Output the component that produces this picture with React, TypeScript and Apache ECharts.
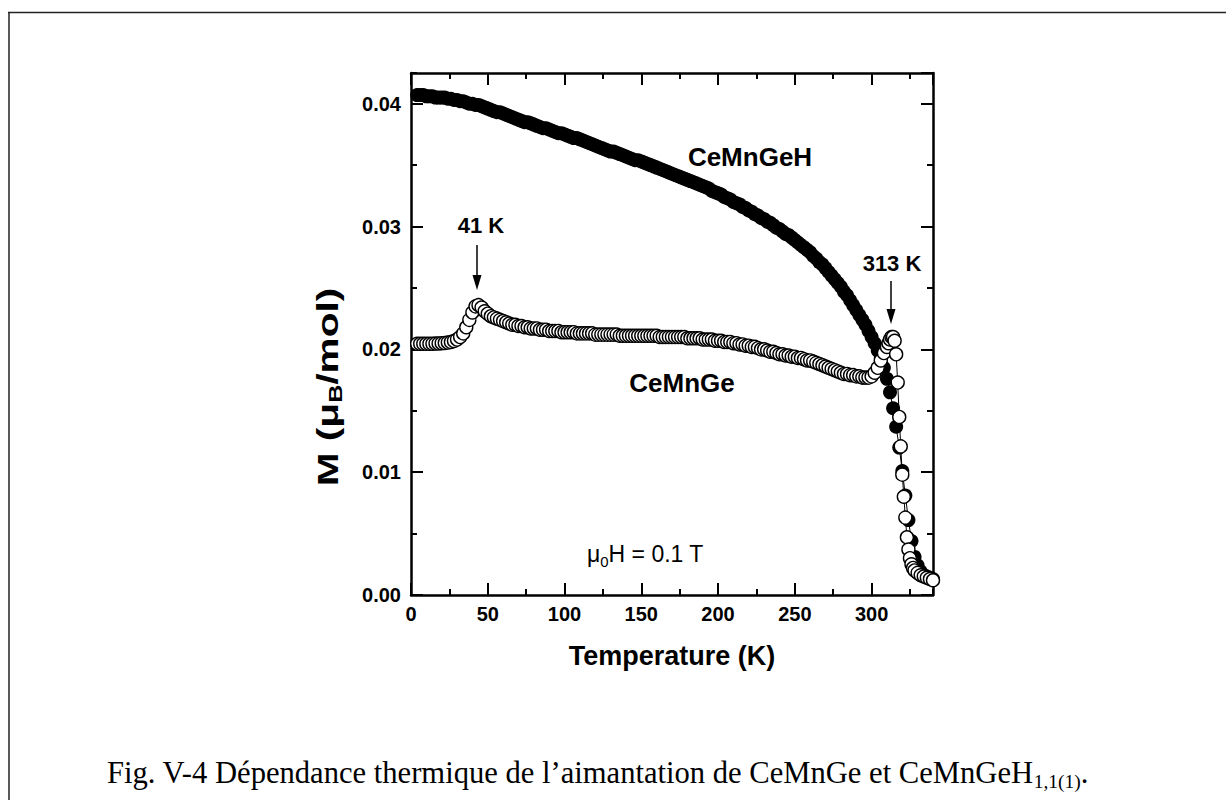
import { useEffect, useRef } from "react";
import * as echarts from "echarts";

// CeMnGeH : filled circles  [T (K), M (muB/mol)]
const ceMnGeH: [number, number][] = [
  [4, 0.0407], [6, 0.0407], [8, 0.0407], [10, 0.0406], [12, 0.0406], [14, 0.0406], [16, 0.0405], [18, 0.0405], [20, 0.0405], [22, 0.0405],
  [24, 0.0404], [26, 0.0404], [28, 0.0403], [30, 0.0403], [32, 0.0402], [34, 0.0402], [36, 0.0401], [38, 0.04], [40, 0.04], [42, 0.0399],
  [44, 0.0399], [46, 0.0398], [48, 0.0397], [50, 0.0396], [52, 0.0395], [54, 0.0394], [56, 0.0393], [58, 0.0393], [60, 0.0392], [62, 0.0391],
  [64, 0.039], [66, 0.0389], [68, 0.0388], [70, 0.0387], [72, 0.0386], [74, 0.0385], [76, 0.0385], [78, 0.0384], [80, 0.0383], [82, 0.0382],
  [84, 0.0381], [86, 0.038], [88, 0.038], [90, 0.0379], [92, 0.0378], [94, 0.0377], [96, 0.0376], [98, 0.0376], [100, 0.0375], [102, 0.0374],
  [104, 0.0373], [106, 0.0372], [108, 0.0372], [110, 0.0371], [112, 0.037], [114, 0.0369], [116, 0.0368], [118, 0.0367], [120, 0.0366], [122, 0.0365],
  [124, 0.0364], [126, 0.0363], [128, 0.0362], [130, 0.0361], [132, 0.0361], [134, 0.036], [136, 0.0359], [138, 0.0358], [140, 0.0357], [142, 0.0356],
  [144, 0.0355], [146, 0.0354], [148, 0.0354], [150, 0.0353], [152, 0.0352], [154, 0.0351], [156, 0.035], [158, 0.0349], [160, 0.0348], [162, 0.0347],
  [164, 0.0346], [166, 0.0345], [168, 0.0344], [170, 0.0343], [172, 0.0342], [174, 0.0341], [176, 0.034], [178, 0.0339], [180, 0.0338], [182, 0.0337],
  [184, 0.0336], [186, 0.0335], [188, 0.0334], [190, 0.0333], [192, 0.0332], [194, 0.0331], [196, 0.0329], [198, 0.0328], [200, 0.0327], [202, 0.0326],
  [204, 0.0324], [206, 0.0323], [208, 0.0322], [210, 0.032], [212, 0.0319], [214, 0.0318], [216, 0.0316], [218, 0.0315], [220, 0.0313], [222, 0.0312],
  [224, 0.031], [226, 0.0309], [228, 0.0307], [230, 0.0306], [232, 0.0304], [234, 0.0303], [236, 0.0301], [238, 0.0299], [240, 0.0298], [242, 0.0296],
  [244, 0.0294], [246, 0.0293], [248, 0.0291], [250, 0.0289], [252, 0.0287], [254, 0.0285], [256, 0.0283], [258, 0.0281], [260, 0.0279], [262, 0.0276],
  [264, 0.0274], [266, 0.0271], [268, 0.0269], [270, 0.0266], [272, 0.0263], [274, 0.026], [276, 0.0257], [278, 0.0254], [280, 0.0251], [282, 0.0247],
  [284, 0.0244], [286, 0.024], [288, 0.0236], [290, 0.0232], [292, 0.0228], [294, 0.0224], [296, 0.022], [298, 0.0215], [300, 0.021], [302, 0.0205],
  [304, 0.0199], [306, 0.0193], [308, 0.0185], [310, 0.0176], [312, 0.0165], [314, 0.0152], [316, 0.0137], [318, 0.012], [320, 0.0101], [322, 0.0081],
  [324, 0.0061], [326, 0.0044], [328, 0.0031], [330, 0.0024], [332, 0.0019], [334, 0.0016], [336, 0.0015], [338, 0.0014], [340, 0.0013],
];

// CeMnGe : open circles  [T (K), M (muB/mol)]
const ceMnGe: [number, number][] = [
  [4, 0.02045], [6, 0.02045], [8, 0.02045], [10, 0.02045], [12, 0.02045], [14, 0.02046], [16, 0.02047], [18, 0.02048], [20, 0.0205], [22, 0.02052],
  [24, 0.02055], [26, 0.0206], [28, 0.02068], [30, 0.0208], [32, 0.021], [34, 0.0213], [36, 0.0218], [38, 0.0224], [40, 0.023], [42, 0.0235],
  [44, 0.0236], [46, 0.0234], [48, 0.0231], [50, 0.0229], [52, 0.0227], [54, 0.0226], [56, 0.0225], [58, 0.0224], [60, 0.0223], [62, 0.0222],
  [64, 0.0221], [66, 0.022], [68, 0.022], [70, 0.0219], [72, 0.0219], [74, 0.0218], [76, 0.0218], [78, 0.0217], [80, 0.0217], [82, 0.0217],
  [84, 0.0216], [86, 0.0216], [88, 0.0216], [90, 0.0215], [92, 0.0215], [94, 0.0215], [96, 0.0215], [98, 0.0214], [100, 0.0214], [102, 0.0214],
  [104, 0.0214], [106, 0.0214], [108, 0.0213], [110, 0.0213], [112, 0.0213], [114, 0.0213], [116, 0.0213], [118, 0.0213], [120, 0.0212], [122, 0.0212],
  [124, 0.0212], [126, 0.0212], [128, 0.0212], [130, 0.0212], [132, 0.0212], [134, 0.0212], [136, 0.0211], [138, 0.0211], [140, 0.0211], [142, 0.0211],
  [144, 0.0211], [146, 0.0211], [148, 0.0211], [150, 0.0211], [152, 0.0211], [154, 0.0211], [156, 0.0211], [158, 0.0211], [160, 0.0211], [162, 0.021],
  [164, 0.021], [166, 0.021], [168, 0.021], [170, 0.021], [172, 0.021], [174, 0.021], [176, 0.021], [178, 0.021], [180, 0.0209], [182, 0.0209],
  [184, 0.0209], [186, 0.0209], [188, 0.0209], [190, 0.0208], [192, 0.0208], [194, 0.0208], [196, 0.0208], [198, 0.0207], [200, 0.0207], [202, 0.0207],
  [204, 0.0206], [206, 0.0206], [208, 0.0206], [210, 0.0205], [212, 0.0205], [214, 0.0204], [216, 0.0204], [218, 0.0203], [220, 0.0203], [222, 0.0202],
  [224, 0.0202], [226, 0.0201], [228, 0.02], [230, 0.02], [232, 0.0199], [234, 0.0198], [236, 0.0198], [238, 0.0197], [240, 0.0196], [242, 0.0196],
  [244, 0.0195], [246, 0.0195], [248, 0.0194], [250, 0.0194], [252, 0.0193], [254, 0.0193], [256, 0.0192], [258, 0.0191], [260, 0.0191], [262, 0.019],
  [264, 0.0189], [266, 0.0188], [268, 0.0187], [270, 0.0186], [272, 0.0185], [274, 0.0184], [276, 0.0183], [278, 0.0182], [280, 0.0181], [282, 0.018],
  [284, 0.018], [286, 0.0179], [288, 0.0179], [290, 0.0178], [292, 0.0178], [294, 0.0177], [296, 0.0177], [298, 0.0177], [300, 0.0178], [302, 0.0181],
  [304, 0.0185], [306, 0.0191], [308, 0.0197], [310, 0.0202], [311, 0.0205], [312, 0.0208], [313, 0.021], [314, 0.021], [315, 0.0207], [316, 0.0196],
  [317, 0.0173], [318, 0.0145], [319, 0.0121], [320, 0.0098], [321, 0.008], [322, 0.0063], [323, 0.0047], [324, 0.0037], [325, 0.003], [326, 0.0025],
  [327, 0.0022], [328, 0.002], [330, 0.0018], [332, 0.0016], [334, 0.0015], [336, 0.0014], [338, 0.0013], [340, 0.0012],
];

const X_MIN = 0;
const X_MAX = 340;
const X_MAJOR = 50;
const X_MINOR = 25;
const Y_MIN = 0;
const Y_MAX = 0.0425;
const Y_MAJOR = 0.01;
const Y_MINOR = 0.005;

const X_TITLE = "Temperature (K)";
const SERIES_NAMES = ["CeMnGeH", "CeMnGe"];
const CAPTION_MAIN = "Fig. V-4 Dépendance thermique de l’aimantation de CeMnGe et CeMnGeH";
const CAPTION_SUB = "1,1(1)";

export default function App() {
  const ref = useRef<HTMLDivElement>(null);

  useEffect(() => {
    const chart = echarts.init(ref.current!, null, { renderer: "svg" });
    const sans = "'Liberation Sans', Arial, sans-serif";
    const serif = "'Liberation Serif', 'Times New Roman', serif";
    const axisLine = { show: true, onZero: false, lineStyle: { color: "#000", width: 2.5 } };

    const xAx = (position: string, interval: number, len: number, labels: boolean, withLine: boolean, extra: any = {}) => ({
      type: "value",
      gridIndex: 0,
      position,
      min: X_MIN,
      max: X_MAX,
      interval,
      axisLine: withLine ? axisLine : { show: false, onZero: false },
      axisTick: { show: true, inside: true, length: len, lineStyle: { color: "#000", width: 2 } },
      axisLabel: labels
        ? { show: true, showMaxLabel: false, color: "#000", fontFamily: sans, fontWeight: "bold", fontSize: 20, margin: 9 }
        : { show: false },
      splitLine: { show: false },
      ...extra,
    });
    const yAx = (position: string, interval: number, len: number, labels: boolean, withLine: boolean, extra: any = {}) => ({
      type: "value",
      gridIndex: 0,
      position,
      min: Y_MIN,
      max: Y_MAX,
      interval,
      axisLine: withLine ? axisLine : { show: false, onZero: false },
      axisTick: { show: true, inside: true, length: len, lineStyle: { color: "#000", width: 2 } },
      axisLabel: labels
        ? {
            show: true,
            showMaxLabel: false,
            color: "#000",
            fontFamily: sans,
            fontWeight: "bold",
            fontSize: 20,
            margin: 10,
            formatter: (v: number) => v.toFixed(2),
          }
        : { show: false },
      splitLine: { show: false },
      ...extra,
    });

    chart.setOption({
      animation: false,
      backgroundColor: "#fff",
      grid: { left: 411, right: 293, top: 73, bottom: 205, containLabel: false },
      xAxis: [
        xAx("bottom", X_MAJOR, 12, true, true, {
          name: X_TITLE,
          nameLocation: "middle",
          nameGap: 47,
          nameTextStyle: { color: "#000", fontFamily: sans, fontWeight: "bold", fontSize: 27 },
        }),
        xAx("bottom", X_MINOR, 6, false, false),
        xAx("top", X_MAJOR, 12, false, true),
        xAx("top", X_MINOR, 6, false, false),
      ],
      yAxis: [
        yAx("left", Y_MAJOR, 12, true, true),
        yAx("left", Y_MINOR, 6, false, false),
        yAx("right", Y_MAJOR, 12, false, true),
        yAx("right", Y_MINOR, 6, false, false),
      ],
      series: [
        {
          name: SERIES_NAMES[0],
          type: "line",
          xAxisIndex: 0,
          yAxisIndex: 0,
          data: ceMnGeH,
          symbol: "circle",
          symbolSize: 14,
          showSymbol: true,
          itemStyle: { color: "#000", borderColor: "#000", borderWidth: 0 },
          lineStyle: { color: "#000", width: 1 },
          emphasis: { disabled: true },
          z: 2,
        },
        {
          name: SERIES_NAMES[1],
          type: "line",
          xAxisIndex: 0,
          yAxisIndex: 0,
          data: ceMnGe,
          symbol: "circle",
          symbolSize: 13,
          showSymbol: true,
          itemStyle: { color: "#fff", borderColor: "#000", borderWidth: 1.4 },
          lineStyle: { color: "#000", width: 1 },
          emphasis: { disabled: true },
          z: 3,
        },
      ],
      graphic: [
        { type: "line", shape: { x1: 9, y1: 12, x2: 9, y2: 800 }, style: { stroke: "#222", lineWidth: 1.5 } },
        { type: "line", shape: { x1: 8, y1: 12.5, x2: 1226, y2: 12.5 }, style: { stroke: "#222", lineWidth: 1.5 } },
        {
          type: "text",
          x: 328,
          y: 387,
          rotation: Math.PI / 2,
          scaleX: 1.4,
          style: {
            text: "{a|M (μ}{s|B}{a|/mol)}",
            align: "center",
            verticalAlign: "middle",
            rich: {
              a: { fontFamily: sans, fontWeight: "bold", fontSize: 29, lineHeight: 34, fill: "#000" },
              s: { fontFamily: sans, fontWeight: "bold", fontSize: 18, lineHeight: 18, verticalAlign: "bottom", fill: "#000" },
            },
          },
        },
        {
          type: "text",
          x: 750,
          y: 157,
          style: { text: "CeMnGeH", fontFamily: sans, fontWeight: "bold", fontSize: 26, fill: "#000", align: "center", verticalAlign: "middle" },
        },
        {
          type: "text",
          x: 682,
          y: 383,
          style: { text: "CeMnGe", fontFamily: sans, fontWeight: "bold", fontSize: 26, fill: "#000", align: "center", verticalAlign: "middle" },
        },
        {
          type: "text",
          x: 481,
          y: 225,
          style: { text: "41 K", fontFamily: sans, fontWeight: "bold", fontSize: 22, fill: "#000", align: "center", verticalAlign: "middle" },
        },
        { type: "line", shape: { x1: 477, y1: 245, x2: 477, y2: 277 }, style: { stroke: "#000", lineWidth: 1.5 } },
        { type: "polygon", shape: { points: [[472.5, 275], [481.5, 275], [477, 290]] }, style: { fill: "#000" } },
        {
          type: "text",
          x: 892,
          y: 263,
          style: { text: "313 K", fontFamily: sans, fontWeight: "bold", fontSize: 22, fill: "#000", align: "center", verticalAlign: "middle" },
        },
        { type: "line", shape: { x1: 891, y1: 281, x2: 891, y2: 311 }, style: { stroke: "#000", lineWidth: 1.5 } },
        { type: "polygon", shape: { points: [[886.5, 309], [895.5, 309], [891, 324]] }, style: { fill: "#000" } },
        {
          type: "text",
          x: 587,
          y: 554,
          style: {
            text: "{a|μ}{s|0}{a|H = 0.1 T}",
            align: "left",
            verticalAlign: "middle",
            rich: {
              a: { fontFamily: sans, fontSize: 23, lineHeight: 29, fill: "#000" },
              s: { fontFamily: sans, fontSize: 15, lineHeight: 15, verticalAlign: "bottom", fill: "#000" },
            },
          },
        },
        {
          type: "text",
          x: 107,
          y: 773,
          style: {
            text: "{a|" + CAPTION_MAIN + "}{s|" + CAPTION_SUB + "}{a|.}",
            align: "left",
            verticalAlign: "middle",
            rich: {
              a: { fontFamily: serif, fontSize: 30.6, lineHeight: 36, fill: "#000" },
              s: { fontFamily: serif, fontSize: 19.5, lineHeight: 19.5, verticalAlign: "bottom", fill: "#000" },
            },
          },
        },
      ],
    });

    return () => chart.dispose();
  }, []);

  return (
    <div
      ref={ref}
      style={{ position: "absolute", left: 0, top: 0, width: 1226, height: 800, background: "#fff" }}
    />
  );
}
